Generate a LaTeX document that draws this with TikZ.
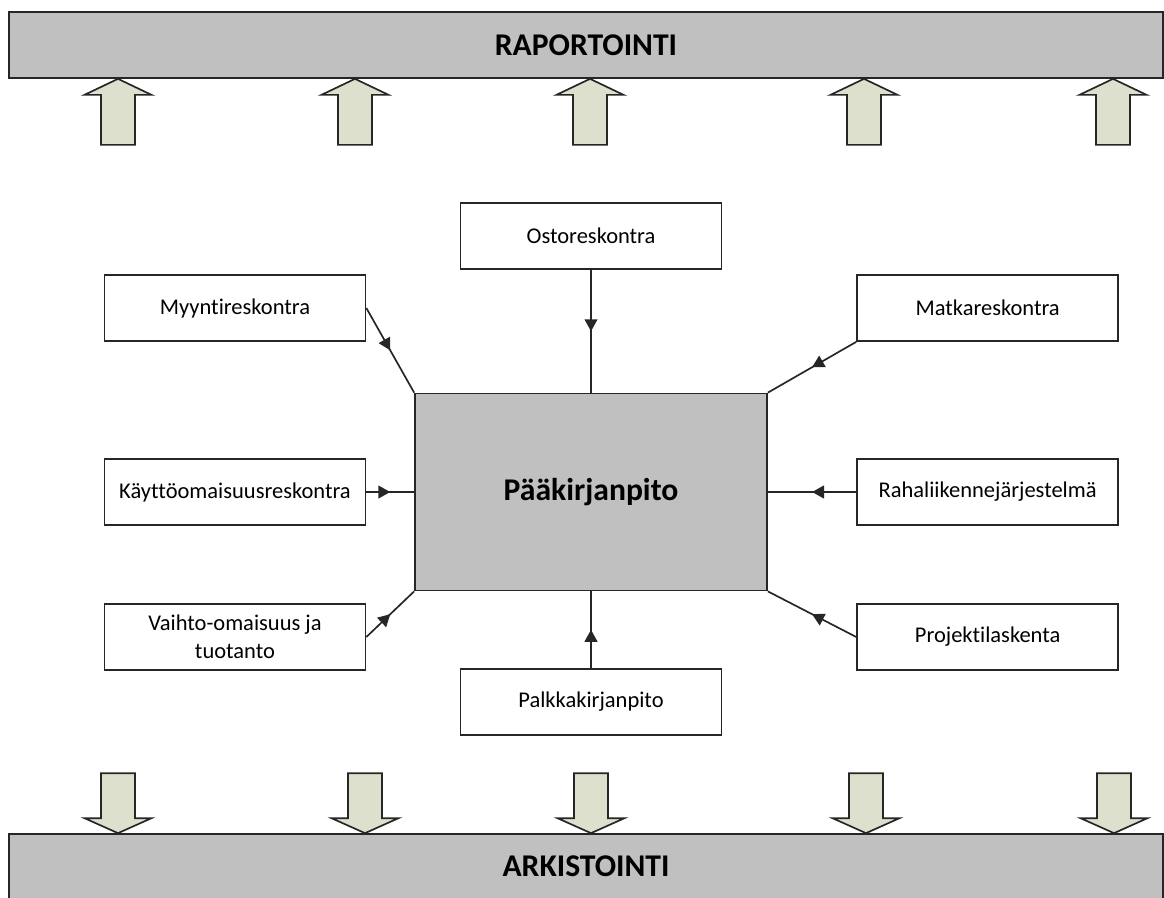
\documentclass[tikz,border=0pt]{standalone}
\usepackage{fontspec}
\setmainfont{Carlito}[Ligatures=NoCommon]
\usetikzlibrary{arrows.meta, decorations.markings}

\definecolor{boxgray}{RGB}{192,192,192}
\definecolor{arrfill}{RGB}{222,224,206}

\begin{document}
\begin{tikzpicture}[
  font=\fontsize{16}{20}\selectfont,
  box/.style={draw=black!85, line width=1.2pt, align=center, inner sep=2pt,
              minimum width=6.525cm, minimum height=1.65cm},
  hub/.style={box, fill=boxgray, minimum width=8.8cm, minimum height=4.925cm,
              font=\fontsize{22.5}{27}\selectfont\bfseries},
  bar/.style={hub, minimum width=28.85cm, minimum height=1.65cm},
  arr/.style={line width=1.2pt, black!85, postaction={decorate},
              decoration={markings, mark=at position 0.5 with
                {\arrow{Triangle[length=3mm,width=3.2mm]}}}},
  blk/.style={draw=black!85, line width=1.2pt, fill=arrfill, line join=miter},
]
\useasboundingbox (0,0) rectangle (29.1,-22.425);
% reporting and archiving bars
\node[bar] (rap) at (14.65,-1.125) {RAPORTOINTI};
\node[bar, minimum height=1.625cm] (ark) at (14.65,-21.6625) {ARKISTOINTI};
% general ledger in the middle
\node[hub] (paa) at (14.775,-12.3) {Pääkirjanpito};
% sub ledgers round it
\node[box] (osto) at (14.775,-5.9) {Ostoreskontra};
\node[box] (palkka) at (14.775,-17.55) {Palkkakirjanpito};
\node[box] (myynti) at (5.875,-7.7) {Myyntireskontra};
\node[box] (kaytto) at (5.875,-12.3) {Käyttöomaisuusreskontra};
\node[box] (vaihto) at (5.875,-15.925) {Vaihto-omaisuus ja\\tuotanto};
\node[box] (matka) at (24.69,-7.7) {Matkareskontra};
\node[box] (raha) at (24.69,-12.3) {Rahaliikennejärjestelmä};
\node[box] (projekti) at (24.69,-15.925) {Projektilaskenta};
% feeds into the ledger
\draw[arr] (osto.south) -- (paa.north);
\draw[arr] (palkka.north) -- (paa.south);
\draw[arr] (myynti.east) -- (paa.north west);
\draw[arr] (kaytto.east) -- (paa.west);
\draw[arr] (vaihto.east) -- (paa.south west);
\draw[arr] (matka.south west) -- (paa.north east);
\draw[arr] (raha.west) -- (paa.east);
\draw[arr] (projekti.west) -- (paa.south east);
% block arrows up to reporting
\foreach \x [count=\i] in {2.95,8.875,14.75,21.6,27.825} {
  \coordinate (up\i) at (rap.south -| \x,0);
  \draw[blk] (up\i) -- ++(0.8375,-0.4) -- ++(-0.4125,0) -- ++(0,-1.25)
    -- ++(-0.85,0) -- ++(0,1.25) -- ++(-0.4125,0) -- cycle;
}
% block arrows down to archiving
\foreach \x [count=\i] in {2.95,9.125,14.775,21.65,27.85} {
  \coordinate (dn\i) at (ark.north -| \x,0);
  \draw[blk] (dn\i) -- ++(0.8375,0.375) -- ++(-0.4125,0) -- ++(0,1.125)
    -- ++(-0.85,0) -- ++(0,-1.125) -- ++(-0.4125,0) -- cycle;
}
\end{tikzpicture}
\end{document}
